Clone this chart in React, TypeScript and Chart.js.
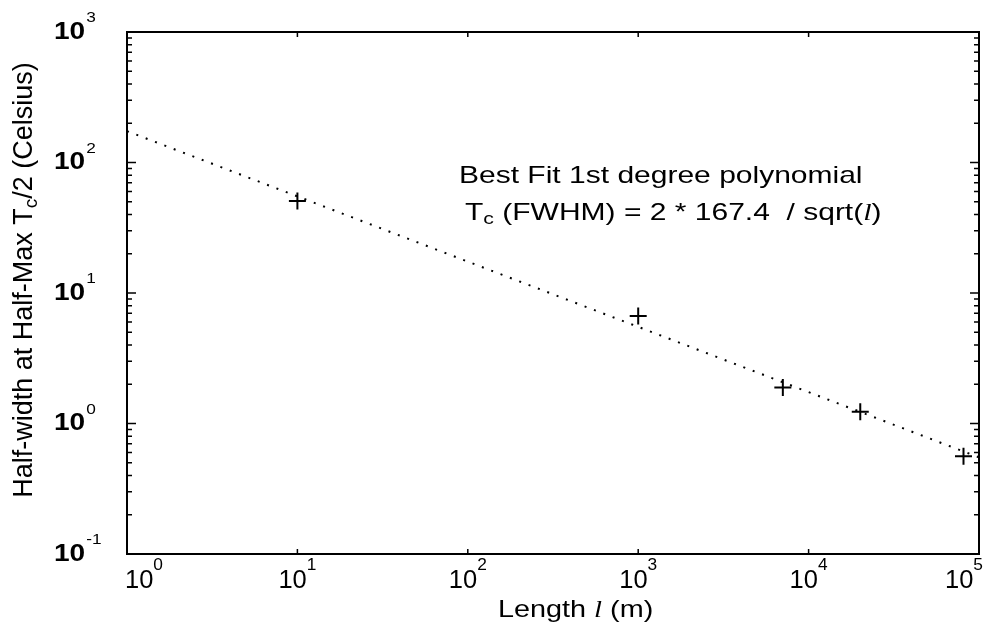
import React, { useEffect, useRef } from "react";
import { Chart, registerables } from "chart.js";

Chart.register(...registerables);

// ---- data ----
const lengths = [10, 1000, 7060, 20100, 81100];
const halfWidths = [50.7, 6.67, 1.89, 1.23, 0.56];
const fitLengths = [1, 100000];
const fitValues = [174, 0.55];

// ---- tick labels ----
const xTickValues = [1, 10, 100, 1000, 10000, 100000];
const xTickExponents = ["0", "1", "2", "3", "4", "5"];
const yTickValues = [0.1, 1, 10, 100, 1000];
const yTickExponents = ["-1", "0", "1", "2", "3"];
const yMinorMultipliers = [2, 3, 4, 5, 6, 7, 8, 9];

const xTitle = ["Length ", "l", " (m)"];
const yTitle = ["Half-width at Half-Max T", "c", "/2 (Celsius)"];
const noteLine1 = "Best Fit 1st degree polynomial";
const noteLine2 = ["T", "c", " (FWHM) = 2 * 167.4  / sqrt(", "l", ")"];

const SANS = '"Liberation Sans", Arial, Helvetica, sans-serif';
const SERIF = '"Liberation Serif", "Times New Roman", serif';

type Run = { text: string; font: string; dy?: number };

function runsWidth(ctx: CanvasRenderingContext2D, runs: Run[], sx: number) {
  let w = 0;
  for (const r of runs) {
    ctx.font = r.font;
    w += ctx.measureText(r.text).width * sx;
  }
  return w;
}

function drawRuns(
  ctx: CanvasRenderingContext2D,
  runs: Run[],
  x: number,
  y: number,
  sx: number,
  align: "left" | "center" | "right"
) {
  const w = runsWidth(ctx, runs, sx);
  let cx = align === "left" ? x : align === "center" ? x - w / 2 : x - w;
  for (const r of runs) {
    ctx.font = r.font;
    const tw = ctx.measureText(r.text).width;
    ctx.save();
    ctx.translate(cx, y + (r.dy || 0));
    ctx.scale(sx, 1);
    ctx.textAlign = "left";
    ctx.textBaseline = "alphabetic";
    ctx.fillText(r.text, 0, 0);
    ctx.restore();
    cx += tw * sx;
  }
  return w;
}

const decorPlugin = {
  id: "decor",
  afterDatasetsDraw(chart: any) {
    const ctx: CanvasRenderingContext2D = chart.ctx;
    const { left, right, top, bottom } = chart.chartArea;
    const xs = chart.scales.x;
    const ys = chart.scales.y;
    ctx.save();
    ctx.strokeStyle = "#000";
    ctx.fillStyle = "#000";

    // frame
    ctx.lineWidth = 2;
    ctx.strokeRect(left, top, right - left, bottom - top);

    // x ticks (inward, top and bottom)
    ctx.lineWidth = 1.5;
    ctx.beginPath();
    for (const v of xTickValues) {
      const px = xs.getPixelForValue(v);
      ctx.moveTo(px, bottom);
      ctx.lineTo(px, bottom - 5);
      ctx.moveTo(px, top);
      ctx.lineTo(px, top + 5);
    }
    // y ticks major + minor (inward, left and right)
    for (let i = 0; i < yTickValues.length; i++) {
      const v = yTickValues[i];
      const py = ys.getPixelForValue(v);
      ctx.moveTo(left, py);
      ctx.lineTo(left + 9, py);
      ctx.moveTo(right, py);
      ctx.lineTo(right - 9, py);
      if (i < yTickValues.length - 1) {
        for (const m of yMinorMultipliers) {
          const pm = ys.getPixelForValue(v * m);
          ctx.moveTo(left, pm);
          ctx.lineTo(left + 5, pm);
          ctx.moveTo(right, pm);
          ctx.lineTo(right - 5, pm);
        }
      }
    }
    ctx.stroke();

    // y tick labels (bold "10" + superscript)
    for (let i = 0; i < yTickValues.length; i++) {
      const py = ys.getPixelForValue(yTickValues[i]);
      const w = drawRuns(ctx, [{ text: "10", font: `bold 23px ${SANS}` }], 54, py + 6.5, 1.22, "left");
      drawRuns(ctx, [{ text: yTickExponents[i], font: `15px ${SANS}` }], 54 + w + 1, py - 10, 1.15, "left");
    }

    // x tick labels
    for (let i = 0; i < xTickValues.length; i++) {
      const px = xs.getPixelForValue(xTickValues[i]);
      const runs: Run[] = [
        { text: "10", font: `25px ${SANS}` },
        { text: xTickExponents[i], font: `17px ${SANS}`, dy: -18 },
      ];
      const w = runsWidth(ctx, runs, 1.02);
      let x0 = px - w / 2;
      if (i === 0) x0 = px - 2;
      if (i === xTickValues.length - 1) x0 = px + 4 - w;
      drawRuns(ctx, runs, x0, 588, 1.02, "left");
    }

    // x title
    drawRuns(
      ctx,
      [
        { text: xTitle[0], font: `24px ${SANS}` },
        { text: xTitle[1], font: `italic 24px ${SERIF}` },
        { text: xTitle[2], font: `24px ${SANS}` },
      ],
      498,
      617,
      1.2,
      "left"
    );

    // y title (rotated)
    ctx.save();
    ctx.translate(32, 280);
    ctx.rotate(-Math.PI / 2);
    drawRuns(
      ctx,
      [
        { text: yTitle[0], font: `27px ${SANS}` },
        { text: yTitle[1], font: `19px ${SANS}`, dy: 5 },
        { text: yTitle[2], font: `27px ${SANS}` },
      ],
      0,
      0,
      1,
      "center"
    );
    ctx.restore();

    // annotation
    drawRuns(ctx, [{ text: noteLine1, font: `24px ${SANS}` }], 459, 183, 1.25, "left");
    drawRuns(
      ctx,
      [
        { text: noteLine2[0], font: `24px ${SANS}` },
        { text: noteLine2[1], font: `17px ${SANS}`, dy: 4 },
        { text: noteLine2[2], font: `24px ${SANS}` },
        { text: noteLine2[3], font: `italic 24px ${SERIF}` },
        { text: noteLine2[4], font: `24px ${SANS}` },
      ],
      465,
      220,
      1.25,
      "left"
    );

    ctx.restore();
  },
};

export default function App() {
  const ref = useRef<HTMLCanvasElement | null>(null);
  useEffect(() => {
    if (!ref.current) return;
    const chart = new Chart(ref.current, {
      type: "scatter",
      data: {
        datasets: [
          {
            data: fitLengths.map((x, i) => ({ x, y: fitValues[i] })),
            showLine: true,
            borderColor: "#000",
            borderWidth: 2,
            borderDash: [2, 8],
            pointRadius: 0,
            fill: false,
          },
          {
            data: lengths.map((x, i) => ({ x, y: halfWidths[i] })),
            showLine: false,
            pointStyle: "cross",
            pointRadius: 8.5,
            pointBorderWidth: 2,
            borderColor: "#000",
            backgroundColor: "#000",
          },
        ],
      },
      options: {
        animation: false,
        responsive: false,
        devicePixelRatio: 1,
        layout: { padding: { left: 127, top: 32, right: 21, bottom: 74 } },
        plugins: { legend: { display: false }, tooltip: { enabled: false } },
        scales: {
          x: {
            type: "logarithmic",
            min: 1,
            max: 100000,
            grid: { display: false },
            border: { display: false },
            ticks: { display: false },
            afterFit: (s: any) => {
              s.height = 0;
            },
          },
          y: {
            type: "logarithmic",
            min: 0.1,
            max: 1000,
            grid: { display: false },
            border: { display: false },
            ticks: { display: false },
            afterFit: (s: any) => {
              s.width = 0;
            },
          },
        },
      } as any,
      plugins: [decorPlugin],
    });
    return () => chart.destroy();
  }, []);
  return (
    <div style={{ position: "fixed", left: 0, top: 0, width: 1000, height: 628, background: "#fff" }}>
      <canvas ref={ref} width={1000} height={628} style={{ display: "block" }} />
    </div>
  );
}
